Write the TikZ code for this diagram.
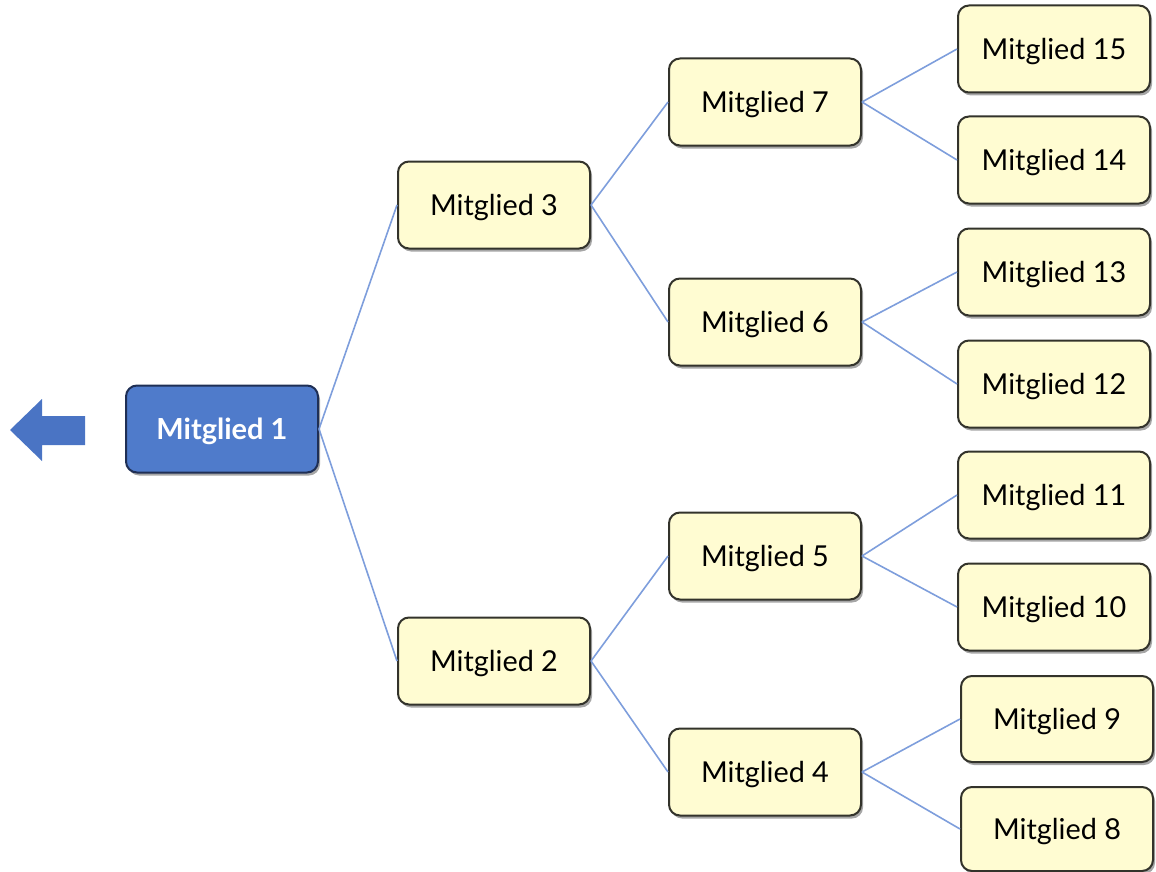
\documentclass[tikz,border=0pt]{standalone}
\usepackage{fontspec}
\setmainfont{Lato}
\usetikzlibrary{shadows}
\definecolor{boxfill}{HTML}{FFFCD2}
\definecolor{boxedge}{HTML}{33332B}
\definecolor{rootfill}{HTML}{4F7BCB}
\definecolor{rootedge}{HTML}{1F2F55}
\definecolor{linkcol}{HTML}{7E9EDC}
\definecolor{arrowcol}{HTML}{4A74C4}
\begin{document}
\begin{tikzpicture}[x=1pt,y=-1pt,
  member/.style={draw=boxedge, line width=2pt, fill=boxfill, rounded corners=11pt,
    minimum width=192pt, minimum height=87pt, inner sep=0pt, text depth=0pt,
    font=\fontsize{28.8}{34}\selectfont, text=black,
    drop shadow={shadow xshift=2pt, shadow yshift=-3pt, opacity=0.35, fill=black}},
  rootbox/.style={member, fill=rootfill, draw=rootedge, text=white, font=\fontsize{29}{34}\selectfont\bfseries},
  link/.style={draw=linkcol, line width=1.6pt}]
\useasboundingbox (0,0) rectangle (1156,872);
% arrow
\fill[arrowcol] (10,430) -- (42,399) -- (42,416) -- (85,416) -- (85,445) -- (42,445) -- (42,461) -- cycle;
% nodes
\node[rootbox] (m1) at (222,429) {Mitglied 1};
\node[member] (m3) at (494,205) {Mitglied 3};
\node[member] (m2) at (494,661) {Mitglied 2};
\node[member] (m7) at (765,102) {Mitglied 7};
\node[member] (m6) at (765,322) {Mitglied 6};
\node[member] (m5) at (765,556) {Mitglied 5};
\node[member] (m4) at (765,772) {Mitglied 4};
\node[member] (m15) at (1054,49) {Mitglied 15};
\node[member] (m14) at (1054,160) {Mitglied 14};
\node[member] (m13) at (1054,272) {Mitglied 13};
\node[member] (m12) at (1054,384) {Mitglied 12};
\node[member] (m11) at (1054,495) {Mitglied 11};
\node[member] (m10) at (1054,607) {Mitglied 10};
\node[member,minimum height=86pt] (m9) at (1057,719) {Mitglied 9};
\node[member,minimum height=84pt] (m8) at (1057,829) {Mitglied 8};
% links
\draw[link] (m1.east) -- (m3.west);
\draw[link] (m1.east) -- (m2.west);
\draw[link] (m3.east) -- (m7.west);
\draw[link] (m3.east) -- (m6.west);
\draw[link] (m2.east) -- (m5.west);
\draw[link] (m2.east) -- (m4.west);
\draw[link] (m7.east) -- (m15.west);
\draw[link] (m7.east) -- (m14.west);
\draw[link] (m6.east) -- (m13.west);
\draw[link] (m6.east) -- (m12.west);
\draw[link] (m5.east) -- (m11.west);
\draw[link] (m5.east) -- (m10.west);
\draw[link] (m4.east) -- (m9.west);
\draw[link] (m4.east) -- (m8.west);
\end{tikzpicture}
\end{document}
